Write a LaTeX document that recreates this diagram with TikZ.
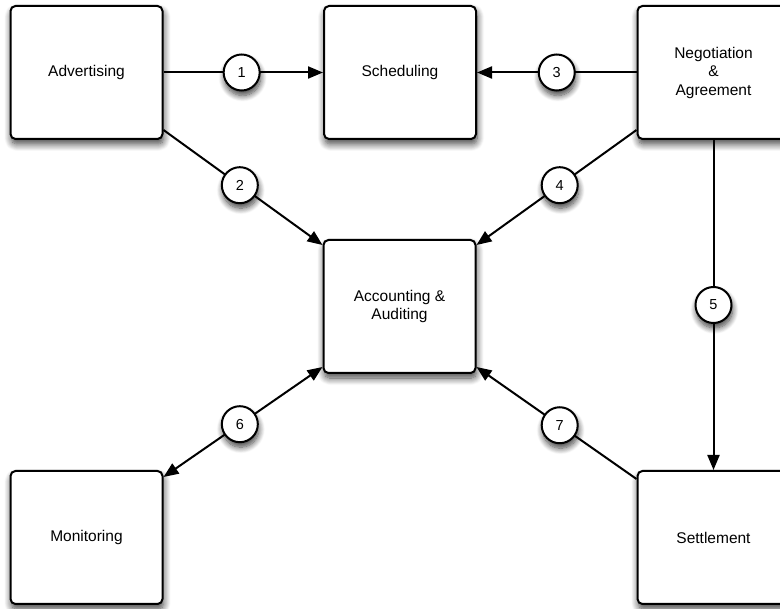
\documentclass[tikz,border=0pt]{standalone}
\usepackage{fontspec}
\setmainfont{Liberation Sans}
\usetikzlibrary{arrows.meta,shadows.blur}
\begin{document}
\begin{tikzpicture}[x=1pt,y=-1pt,
  stage/.style={draw=black, line width=2pt, fill=white, rounded corners=5pt,
    minimum width=152pt, minimum height=133pt, inner sep=0pt, align=center,
    font=\fontsize{15.5}{18.5}\selectfont,
    blur shadow={shadow xshift=1pt, shadow yshift=-5pt, shadow blur radius=7pt,
      shadow blur steps=10, shadow opacity=75}},
  num/.style={draw=black, line width=2pt, fill=white, circle, minimum size=36pt,
    inner sep=0pt, font=\fontsize{14.5}{16}\selectfont,
    blur shadow={shadow xshift=1pt, shadow yshift=-5pt, shadow blur radius=6pt,
      shadow blur steps=10, shadow opacity=75}},
  link/.style={line width=2pt, -{Triangle[length=15pt,width=12pt]}},
  both/.style={line width=2pt, {Triangle[length=15pt,width=12pt]}-{Triangle[length=15pt,width=12pt]}}
]
\useasboundingbox (0,0) rectangle (780,609);
\clip (0,0) rectangle (780,609);

% process stages
\node[stage] (adv) at (86.5,72.5) {Advertising};
\node[stage] (sch) at (400,72.5) {Scheduling};
\node[stage] (neg) at (713.5,72.5) {Negotiation\\\&\\Agreement};
\node[stage] (acc) at (399.5,306.5) {Accounting \&\\Auditing};
\node[stage] (mon) at (86.5,537.5) {Monitoring};
\node[stage] (set) at (713.5,537.5) {Settlement};

% numbered flows
\draw[link] (adv.east) -- (sch.west) node[num,pos=0.49] (n1) {1};
\draw[link] (neg.west) -- (sch.east) node[num,pos=0.5] (n3) {3};
\draw[link] ([yshift=10pt]adv.south east) -- ([yshift=-6pt]acc.north west) node[num,pos=0.48] (n2) {2};
\draw[link] ([yshift=10pt]neg.south west) -- ([yshift=-6pt]acc.north east) node[num,pos=0.48] (n4) {4};
\draw[link] (neg.south) -- (set.north) node[num,pos=0.5] (n5) {5};
\draw[both] ([yshift=7pt]acc.south west) -- ([yshift=-7pt]mon.north east) node[num,pos=0.52] (n6) {6};
\draw[link] ([yshift=-9pt]set.north west) -- ([yshift=7pt]acc.south east) node[num,pos=0.48] (n7) {7};
\end{tikzpicture}
\end{document}
